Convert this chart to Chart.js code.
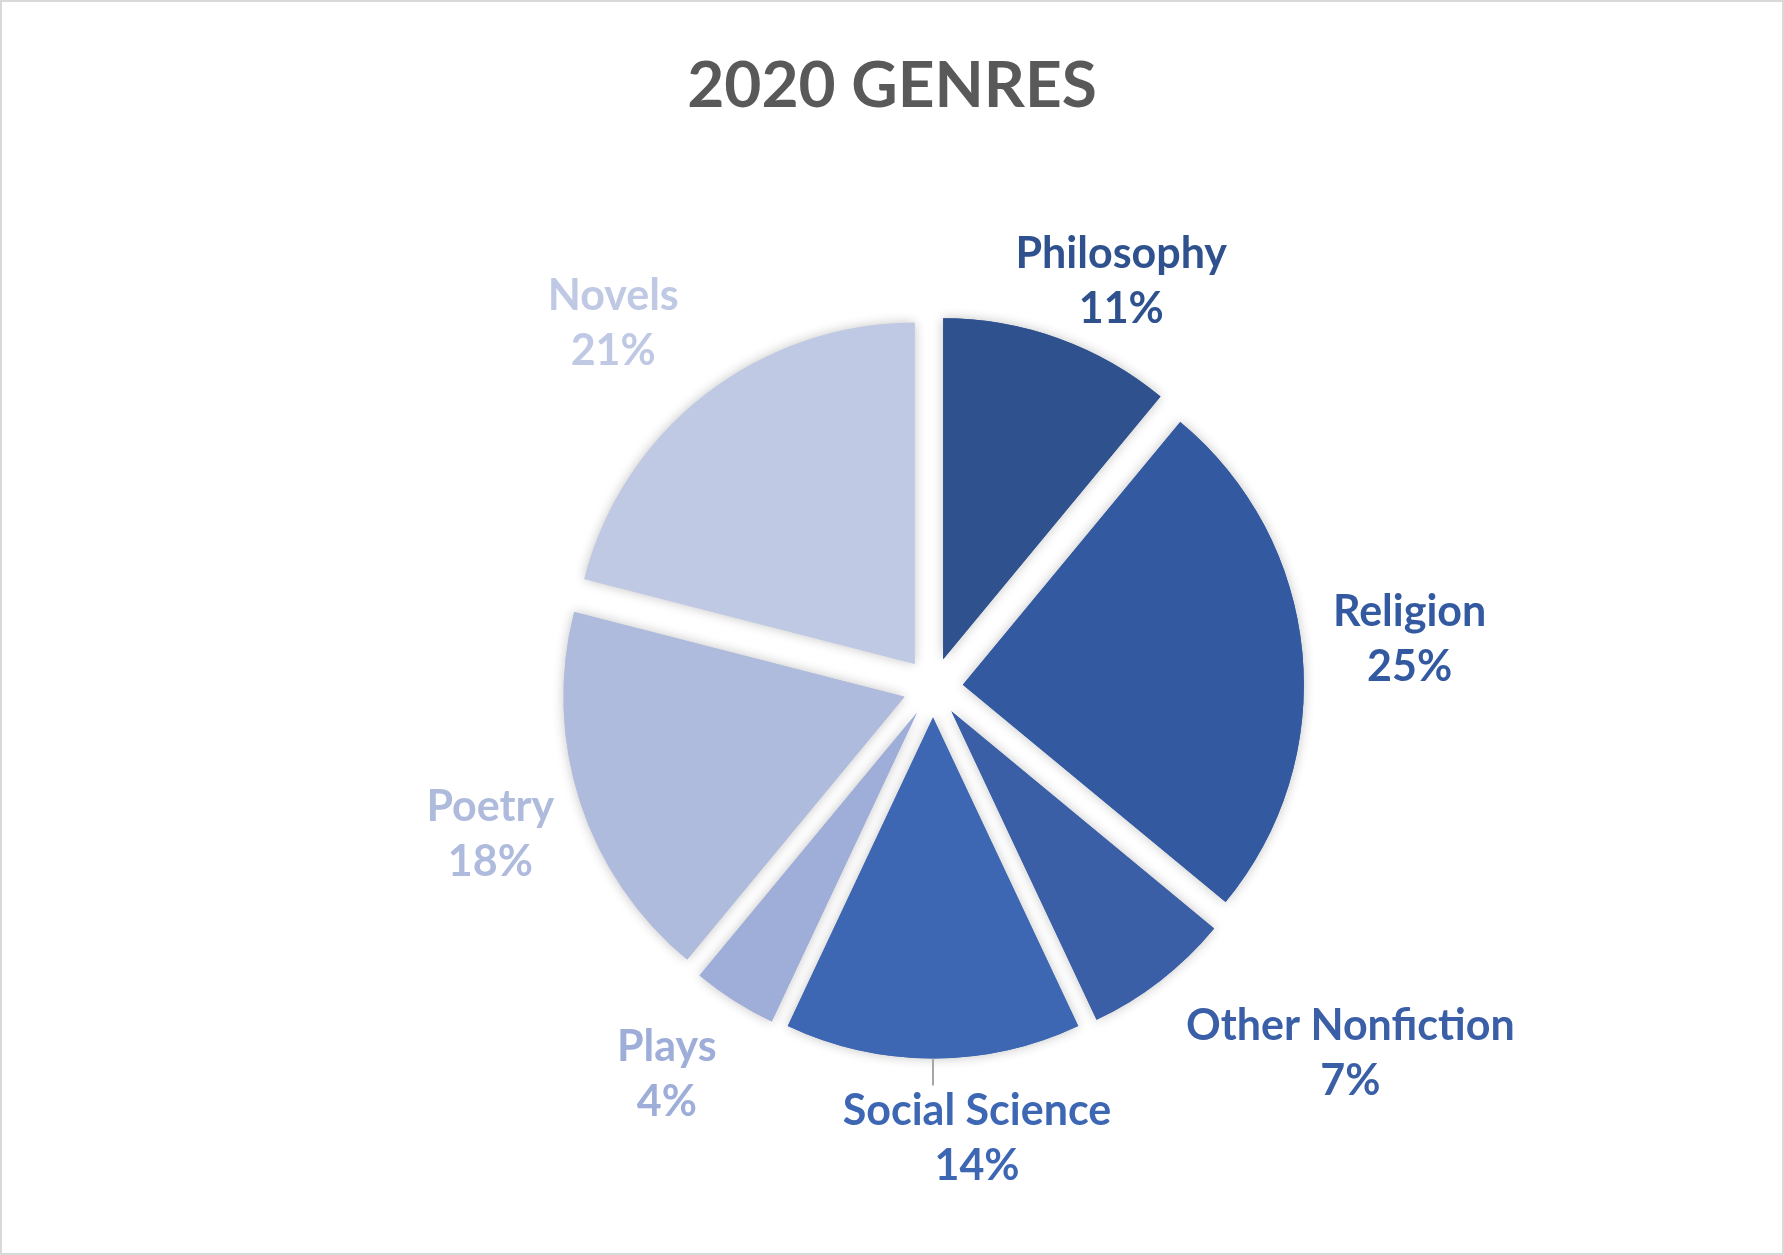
<!DOCTYPE html>
<html>
<head>
<meta charset="utf-8">
<title>2020 Genres</title>
<script src="https://cdn.jsdelivr.net/npm/chart.js@4.4.1/dist/chart.umd.min.js"></script>
<style>
  html, body { margin: 0; padding: 0; background: #fff; }
  canvas { display: block; }
</style>
</head>
<body>
<canvas id="genreChart" width="1784" height="1255"></canvas>
<script>
// data (percent of titles)
const genres = ["Philosophy", "Religion", "Other Nonfiction", "Social Science", "Plays", "Poetry", "Novels"];
const shares = [11, 25, 7, 14, 4, 18, 21];
const sliceColors = ["#2F528F", "#335AA0", "#3A5FA7", "#3D67B2", "#9EAED8", "#AFBBDD", "#BFC9E4"];

// title + frame, drawn on the canvas
const frameAndTitle = {
  id: "frameAndTitle",
  beforeDraw(chart, args, opts) {
    const c = chart.ctx;
    c.save();
    c.fillStyle = "#fff";
    c.fillRect(0, 0, chart.width, chart.height);
    c.strokeStyle = "#D9D9D9";
    c.lineWidth = 2;
    c.strokeRect(1, 1, chart.width - 2, chart.height - 2);
    c.fillStyle = "#595959";
    c.font = "bold 64px Lato";
    c.textAlign = "center";
    c.textBaseline = "alphabetic";
    c.fillText(opts.text, opts.x, opts.y);
    c.restore();
  }
};

// exploded slices with soft shadow (like Excel's exploded pie)
const explode = {
  id: "explode",
  beforeDatasetDraw(chart, args, opts) {
    const c = chart.ctx;
    const arcs = args.meta.data;
    [true, false].forEach(withShadow => {
      arcs.forEach(arc => {
        const mid = (arc.startAngle + arc.endAngle) / 2;
        c.save();
        if (withShadow) {
          c.shadowColor = "rgba(0,0,0,0.24)";
          c.shadowBlur = 12;
        }
        c.translate(Math.cos(mid) * opts.distance, Math.sin(mid) * opts.distance);
        arc.draw(c);
        c.restore();
      });
    });
    return false;
  }
};

// outside labels: name + percent, coloured like the slice
const sliceLabels = {
  id: "sliceLabels",
  afterDraw(chart, args, opts) {
    const c = chart.ctx;
    const meta = chart.getDatasetMeta(0);
    const values = chart.data.datasets[0].data;
    c.save();
    c.font = "bold 43px Lato";
    c.textAlign = "center";
    c.textBaseline = "alphabetic";
    meta.data.forEach((arc, i) => {
      const mid = (arc.startAngle + arc.endAngle) / 2;
      const ux = Math.cos(mid), uy = Math.sin(mid);
      const edge = arc.outerRadius + opts.explode;
      const name = chart.data.labels[i];
      const hw = c.measureText(name).width / 2;
      const hh = 42;
      const d = edge + opts.pad;
      const nudge = opts.nudge[i];
      const cx = arc.x + ux * d + ux * hw + nudge[0];
      const cy = arc.y + uy * d + uy * hh + nudge[1];

      if (opts.leader[i]) {
        const x0 = arc.x + ux * edge, y0 = arc.y + uy * edge;
        const top = cy - hh - 11;
        c.strokeStyle = "#A6A6A6";
        c.lineWidth = 2;
        c.beginPath();
        c.moveTo(x0, y0);
        c.lineTo(x0, top);
        c.stroke();
      }

      c.fillStyle = sliceColors[i];
      c.fillText(name, cx, cy - 14);
      c.fillText(values[i] + "%", cx, cy + 41);
    });
    c.restore();
  }
};

const ctx = document.getElementById("genreChart");
const genreChart = new Chart(ctx, {
  type: "pie",
  data: {
    labels: genres,
    datasets: [{
      data: shares,
      backgroundColor: sliceColors,
      borderWidth: 0,
      radius: 341
    }]
  },
  options: {
    responsive: false,
    animation: false,
    layout: { padding: { left: 82, right: 0, top: 120, bottom: 0 } },
    plugins: {
      legend: { display: false },
      tooltip: { enabled: false },
      title: { display: false },
      frameAndTitle: { text: "2020 GENRES", x: 892, y: 107 },
      explode: { distance: 30 },
      sliceLabels: {
        explode: 30,
        pad: 20,
        nudge: [[20, 2], [11, -7], [77, 24], [44, 18], [-30, 22], [-10, 14], [-40, -21]],
        leader: [false, false, false, true, false, false, false]
      }
    }
  },
  plugins: [frameAndTitle, explode, sliceLabels]
});
</script>
</body>
</html>
